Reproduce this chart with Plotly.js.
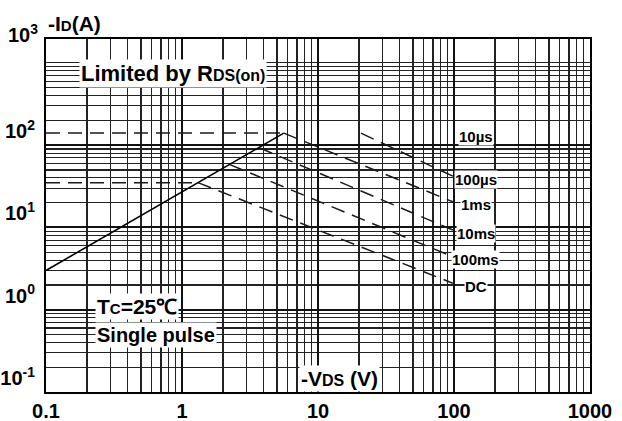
<!DOCTYPE html>
<html>
<head>
<meta charset="utf-8">
<script src="https://cdn.plot.ly/plotly-3.0.1.min.js"></script>
<style>
  html, body { margin: 0; padding: 0; background: #fff; }
  #soa { width: 622px; height: 421px; }
</style>
</head>
<body>
<div id="soa"></div>
<script>
// Safe operating area of the MOSFET, Tc = 25 °C, single pulse
// -VDS in volts, -ID in amperes

// R_DS(on) limit (solid)
const rdsV = [0.1, 5.6];
const rdsI = [3.0, 140];

// pulsed drain current limit
const pulseLimitV = [0.1, 5.6];
const pulseLimitI = [140, 140];

// continuous drain current limit
const contLimitV = [0.1, 1.31];
const contLimitI = [35, 35];

// pulse-width boundaries
const us100V = [20.7, 98];
const us100I = [140, 42];
const ms1V = [5.6, 98];
const ms1I = [140, 20.5];
const ms10V = [3.7, 98];
const ms10I = [93, 9.3];
const ms100V = [2.25, 98];
const ms100I = [58, 4.4];
const dcV = [1.31, 98];
const dcI = [35, 2.1];

const curveLabels = ['10µs', '100µs', '1ms', '10ms', '100ms', 'DC'];
const labelV = [98, 98, 98, 98, 98, 98];
const labelI = [140, us100I[1], ms1I[1], ms10I[1], ms100I[1], dcI[1]];

const xTickVals = [0.1, 1, 10, 100, 1000];
const xTickText = ['0.1', '1', '10', '100', '1000'];
const yTickVals = [0.1, 1, 10, 100];
const yTickText = ['10<sup>-1</sup>', '10<sup>0</sup>', '10<sup>1</sup>', '10<sup>2</sup>'];

const FONT = 'Liberation Sans, Arial, Helvetica, sans-serif';
const dashStyle = { color: '#1a1a1a', width: 1.5, dash: '14px,8px' };

function dashed(xs, ys) {
  return { x: xs, y: ys, type: 'scatter', mode: 'lines', line: dashStyle, hoverinfo: 'skip', showlegend: false };
}

const traces = [
  { x: rdsV, y: rdsI, type: 'scatter', mode: 'lines', line: { color: '#000', width: 1.6 }, showlegend: false },
  dashed(pulseLimitV, pulseLimitI),
  dashed(contLimitV, contLimitI),
  dashed(us100V, us100I),
  dashed(ms1V, ms1I),
  dashed(ms10V, ms10I),
  dashed(ms100V, ms100I),
  dashed(dcV, dcI)
];

const labelAnnotations = curveLabels.map((t, i) => ({
  text: '<b>' + t + '</b>',
  x: Math.log10(labelV[i]), y: Math.log10(labelI[i]),
  xref: 'x', yref: 'y',
  xanchor: 'center', yanchor: 'middle',
  xshift: 23, yshift: -3,
  showarrow: false,
  bgcolor: '#fff', borderpad: 0,
  font: { family: FONT, size: 15, color: '#000' }
}));

const textAnnotations = [
  {
    text: '<b>-I<span style="font-size:15px">D</span>(A)</b>',
    xref: 'paper', yref: 'paper', x: 0, y: 1.045,
    xanchor: 'left', yanchor: 'middle', showarrow: false,
    font: { family: FONT, size: 21, color: '#000' }
  },
  {
    text: '<b>10<sup>3</sup></b>',
    xref: 'paper', yref: 'paper', x: -0.011, y: 0.975,
    xanchor: 'right', yanchor: 'bottom', showarrow: false,
    font: { family: FONT, size: 20, color: '#000' }
  },
  {
    text: '<b>Limited by R<span style="font-size:16px">DS(on)</span></b>',
    xref: 'paper', yref: 'paper', x: 0.2335, y: 0.901,
    xanchor: 'center', yanchor: 'middle', showarrow: false,
    bgcolor: '#fff', borderpad: 1,
    font: { family: FONT, size: 22, color: '#000' }
  },
  {
    text: '<b>T<span style="font-size:15px">C</span>=25℃</b>',
    xref: 'paper', yref: 'paper', x: 0.09, y: 0.241,
    xanchor: 'left', yanchor: 'middle', showarrow: false,
    bgcolor: '#fff', borderpad: 1,
    font: { family: FONT, size: 21, color: '#000' }
  },
  {
    text: '<b>Single pulse</b>',
    xref: 'paper', yref: 'paper', x: 0.09, y: 0.1615,
    xanchor: 'left', yanchor: 'middle', showarrow: false,
    bgcolor: '#fff', borderpad: 1,
    font: { family: FONT, size: 20, color: '#000' }
  },
  {
    text: '<b>-V<span style="font-size:16px">DS</span> (V)</b>',
    xref: 'paper', yref: 'paper', x: 0.54, y: 0.0,
    xanchor: 'center', yanchor: 'bottom', showarrow: false,
    bgcolor: '#fff', borderpad: 1,
    font: { family: FONT, size: 21, color: '#000' }
  }
];

const layout = {
  width: 622, height: 421,
  margin: { l: 46, r: 32, t: 39, b: 29 },
  paper_bgcolor: '#fff', plot_bgcolor: '#fff',
  font: { family: FONT, color: '#000' },
  showlegend: false,
  xaxis: {
    type: 'log', range: [-1, 3],
    tickmode: 'array', tickvals: xTickVals,
    ticktext: xTickText.map(t => '<b>' + t + '</b>'),
    ticks: '', ticklabelstandoff: 0,
    tickfont: { family: FONT, size: 20, color: '#000' },
    showgrid: true, gridcolor: '#111', gridwidth: 2.2,
    minor: { dtick: 'D1', showgrid: true, gridcolor: '#222', gridwidth: 1.2 },
    showline: true, mirror: true, linecolor: '#000', linewidth: 2,
    zeroline: false, fixedrange: true
  },
  yaxis: {
    type: 'log', range: [-1, 3.29],
    tickmode: 'array', tickvals: yTickVals,
    ticktext: yTickText.map(t => '<b>' + t + '</b>'),
    ticks: '', ticklabelposition: 'outside top', ticklabelstandoff: 5,
    tickfont: { family: FONT, size: 20, color: '#000' },
    showgrid: true, gridcolor: '#111', gridwidth: 2,
    minor: { dtick: 'D1', showgrid: true, gridcolor: '#222', gridwidth: 1.2 },
    showline: true, mirror: true, linecolor: '#000', linewidth: 2,
    zeroline: false, fixedrange: true
  },
  annotations: labelAnnotations.concat(textAnnotations)
};

Plotly.newPlot('soa', traces, layout, { displayModeBar: false, staticPlot: true });
</script>
</body>
</html>
